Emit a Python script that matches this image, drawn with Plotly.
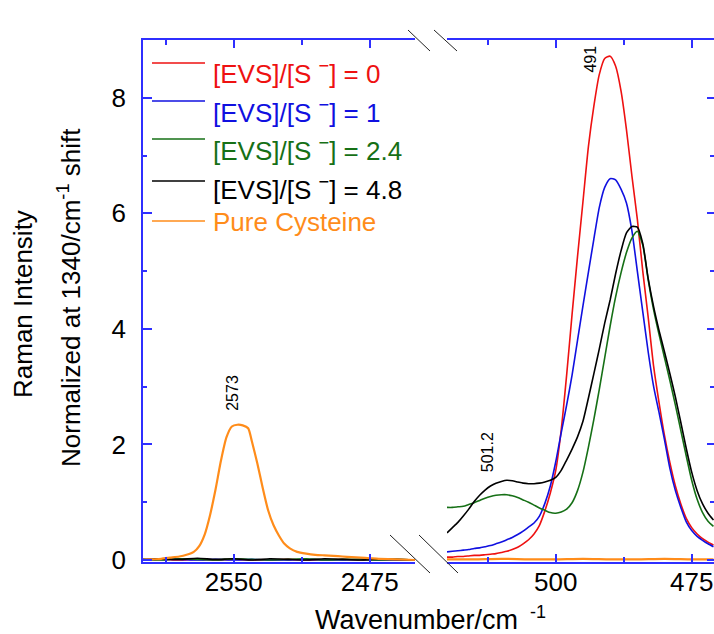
import plotly.graph_objects as go

# ---------------- data ----------------
series_names = ["[EVS]/[S <sup>−</sup>] = 0", "[EVS]/[S <sup>−</sup>] = 1",
                "[EVS]/[S <sup>−</sup>] = 2.4", "[EVS]/[S <sup>−</sup>] = 4.8",
                "Pure Cysteine"]
series_colors = ["#ee1111", "#1010e0", "#167016", "#000000", "#ff8c1a"]

# S-H stretch region (left panel), cm-1
sh_wn = [2600, 2595, 2590, 2585, 2580, 2576, 2572, 2569, 2566, 2563, 2560, 2557,
         2554, 2551, 2548, 2545, 2542, 2540, 2537, 2534, 2531, 2528, 2525, 2522,
         2519, 2515, 2510, 2505, 2500, 2495, 2490, 2485, 2480, 2475, 2470, 2460, 2450]
sh_cys = [0.0, 0.01, 0.02, 0.04, 0.06, 0.09, 0.14, 0.24, 0.44, 0.78, 1.22, 1.72,
          2.12, 2.31, 2.34, 2.33, 2.28, 2.06, 1.68, 1.25, 0.86, 0.60, 0.42, 0.28,
          0.20, 0.14, 0.11, 0.09, 0.08, 0.07, 0.06, 0.05, 0.04, 0.03, 0.02, 0.01, 0.0]

sh_wn_coarse = [2600, 2590, 2580, 2570, 2560, 2550, 2540, 2530, 2520, 2510,
                2500, 2490, 2480, 2470, 2460, 2450]
sh_r0 = [0.01, 0.01, 0.00, 0.01, 0.00, 0.01, 0.00, 0.00, 0.01, 0.00, 0.00, 0.01, 0.00, 0.00, 0.00, 0.00]
sh_r1 = [0.00, 0.01, 0.01, 0.00, 0.01, 0.00, 0.01, 0.00, 0.00, 0.01, 0.00, 0.00, 0.01, 0.00, 0.00, 0.00]
sh_r24 = [0.01, 0.00, 0.02, 0.01, 0.00, 0.02, 0.01, 0.00, 0.01, 0.02, 0.00, 0.01, 0.01, 0.00, 0.01, 0.00]
sh_r48 = [0.00, 0.02, 0.01, 0.03, 0.01, 0.02, 0.00, 0.02, 0.01, 0.00, 0.02, 0.01, 0.00, 0.02, 0.01, 0.00]

# S-S stretch region (right panel), cm-1
ss_wn = [520, 519, 518, 517, 516, 515, 514, 513, 512, 511, 510, 509, 508, 507, 506,
         505, 504, 503, 502, 501, 500, 499, 498, 497, 496, 495, 494, 493, 492, 491,
         490, 489, 488, 487, 486, 485, 484, 483, 482, 481, 480, 479, 478, 477, 476,
         475, 474, 473, 472, 471]
ss_r0 = [0.05, 0.05, 0.06, 0.06, 0.07, 0.08, 0.08, 0.09, 0.10, 0.11, 0.13, 0.15, 0.18, 0.22, 0.28,
         0.35, 0.45, 0.60, 0.85, 1.16, 1.55, 2.25, 3.20, 4.25, 5.25, 6.20, 7.15, 7.85, 8.40, 8.68,
         8.72, 8.55, 8.12, 7.45, 6.65, 5.90, 5.00, 4.20, 3.35, 2.72, 2.15, 1.68, 1.28, 0.97, 0.72,
         0.56, 0.45, 0.37, 0.31, 0.26]
ss_r1 = [0.14, 0.15, 0.16, 0.17, 0.18, 0.20, 0.21, 0.23, 0.25, 0.28, 0.31, 0.35, 0.39, 0.44, 0.50,
         0.57, 0.64, 0.76, 0.98, 1.28, 1.70, 2.20, 2.68, 3.20, 3.80, 4.40, 4.98, 5.55, 6.10, 6.45,
         6.60, 6.58, 6.42, 6.18, 5.70, 5.00, 4.30, 3.60, 3.00, 2.55, 2.08, 1.58, 1.20, 0.91, 0.66,
         0.51, 0.41, 0.34, 0.28, 0.23]
ss_r24 = [0.91, 0.91, 0.92, 0.93, 0.96, 0.99, 1.03, 1.07, 1.10, 1.12, 1.13, 1.13, 1.11, 1.08, 1.04,
          1.00, 0.95, 0.90, 0.86, 0.82, 0.81, 0.83, 0.88, 0.99, 1.20, 1.52, 1.95, 2.43, 2.95, 3.50,
          4.05, 4.55, 4.97, 5.32, 5.57, 5.69, 5.45, 4.85, 4.33, 3.90, 3.50, 3.10, 2.68, 2.24, 1.80,
          1.38, 1.05, 0.82, 0.67, 0.58]
ss_r48 = [0.47, 0.56, 0.65, 0.76, 0.88, 1.01, 1.12, 1.21, 1.28, 1.33, 1.36, 1.38, 1.37, 1.35, 1.33,
          1.32, 1.32, 1.33, 1.35, 1.38, 1.43, 1.55, 1.73, 1.92, 2.13, 2.40, 2.80, 3.22, 3.65, 4.10,
          4.50, 4.95, 5.35, 5.66, 5.77, 5.76, 5.48, 4.87, 4.38, 3.97, 3.60, 3.22, 2.82, 2.38, 1.93,
          1.52, 1.20, 0.97, 0.81, 0.69]
ss_wn_coarse = [520, 515, 510, 505, 500, 495, 490, 485, 480, 475, 471]
ss_cys = [0.01, 0.01, 0.02, 0.01, 0.01, 0.02, 0.01, 0.01, 0.02, 0.01, 0.01]

# peak labels
peak_labels = ["2573", "491", "501.2"]

# ---------------- layout constants ----------------
W, H = 714, 634
ML, MR, MT, MB = 143, 0, 40, 72
PW, PH = W - ML - MR, H - MT - MB
FONT = "Liberation Sans, Arial, Helvetica, sans-serif"
AXC = "#2f2fff"


def px_x(p):
    return (p - ML) / PW


def px_y(p):
    return (H - MB - p) / PH


left_dom = [0.0, px_x(415)]
right_dom = [px_x(447), 1.0]

fig = go.Figure()

left_sets = [(sh_wn_coarse, sh_r0), (sh_wn_coarse, sh_r1), (sh_wn_coarse, sh_r24),
             (sh_wn_coarse, sh_r48), (sh_wn, sh_cys)]
right_sets = [(ss_wn, ss_r0), (ss_wn, ss_r1), (ss_wn, ss_r24), (ss_wn, ss_r48),
              (ss_wn_coarse, ss_cys)]

for i, (name, col) in enumerate(zip(series_names, series_colors)):
    lw = 2.2 if i == 4 else 1.6
    xs, ys = left_sets[i]
    fig.add_trace(go.Scatter(x=xs, y=ys, mode="lines", name=name, showlegend=False,
                             line=dict(color=col, width=lw, shape="spline", smoothing=0.6),
                             xaxis="x", yaxis="y"))
    xs, ys = right_sets[i]
    fig.add_trace(go.Scatter(x=xs, y=ys, mode="lines", name=name, showlegend=False,
                             line=dict(color=col, width=lw, shape="spline", smoothing=0.6),
                             xaxis="x2", yaxis="y2"))

tickfont = dict(family=FONT, size=26, color="black")
xcommon = dict(showline=True, linecolor=AXC, linewidth=1.5, mirror="ticks",
               ticks="inside", ticklen=8, tickwidth=1.5, tickcolor=AXC,
               showgrid=False, zeroline=False, tickfont=tickfont, ticklabelstandoff=-4)

fig.update_layout(
    width=W, height=H,
    margin=dict(l=ML, r=MR, t=MT, b=MB, pad=0),
    paper_bgcolor="white", plot_bgcolor="white",
    font=dict(family=FONT, color="black"),
    xaxis=dict(domain=left_dom, range=[2600, 2450], tick0=2550, dtick=75, anchor="y",
               minor=dict(ticks="inside", ticklen=5, tickwidth=1.5, tickcolor=AXC, dtick=37.5,
                          tick0=2550, showgrid=False),
               **xcommon),
    xaxis2=dict(domain=right_dom, range=[520, 470.9], tick0=500, dtick=25, anchor="y2",
                minor=dict(ticks="inside", ticklen=5, tickwidth=1.5, tickcolor=AXC, dtick=12.5,
                           tick0=500, showgrid=False),
                **xcommon),
    yaxis=dict(domain=[0, 1], range=[-0.035, 9.0], anchor="x", dtick=2, tick0=0,
               showline=True, linecolor=AXC, linewidth=1.5, mirror=False,
               ticks="inside", ticklen=9, tickwidth=1.5, tickcolor=AXC,
               minor=dict(ticks="inside", ticklen=4, tickwidth=1.5, tickcolor=AXC, dtick=1,
                          showgrid=False),
               showgrid=False, zeroline=False, tickfont=tickfont, ticklabelstandoff=10),
    yaxis2=dict(domain=[0, 1], matches="y", anchor="x2", side="right", dtick=2, tick0=0,
                showline=True, linecolor=AXC, linewidth=1.5, mirror=False,
                ticks="inside", ticklen=7, tickwidth=1.5, tickcolor=AXC,
                minor=dict(ticks="inside", ticklen=4, tickwidth=1.5, tickcolor=AXC, dtick=1,
                           showgrid=False),
                showgrid=False, zeroline=False, showticklabels=False),
)

# ---- axis titles ----
ann = []
ann.append(dict(text="Raman Intensity", x=px_x(23), y=px_y(304), xref="paper", yref="paper",
                textangle=-90, showarrow=False, font=dict(size=26, family=FONT),
                xanchor="center", yanchor="middle"))
ann.append(dict(text="Normalized at 1340/cm<sup>-1</sup> shift", x=px_x(69), y=px_y(298),
                xref="paper", yref="paper", textangle=-90, showarrow=False,
                font=dict(size=26, family=FONT), xanchor="center", yanchor="middle"))
ann.append(dict(text="Wavenumber/cm", x=px_x(416), y=px_y(620), xref="paper", yref="paper",
                showarrow=False, font=dict(size=27, family=FONT),
                xanchor="center", yanchor="middle"))
ann.append(dict(text="-1", x=px_x(528), y=px_y(612), xref="paper", yref="paper",
                showarrow=False, font=dict(size=18, family=FONT),
                xanchor="left", yanchor="middle"))

# ---- peak labels, placed from the curve data ----
i_cys = sh_cys.index(max(sh_cys))
ann.append(dict(text=peak_labels[0], x=sh_wn[i_cys] + 2.6, y=sh_cys[i_cys] + 0.2,
                xref="x", yref="y", textangle=-90, showarrow=False,
                font=dict(size=16, family=FONT), xanchor="center", yanchor="bottom"))
i_red = ss_r0.index(max(ss_r0))
ann.append(dict(text=peak_labels[1], x=ss_wn[i_red] + 3.6, y=ss_r0[i_red] + 0.22,
                xref="x2", yref="y2", textangle=-90, showarrow=False,
                font=dict(size=16, family=FONT), xanchor="center", yanchor="top"))
shoulder = [v if w >= 503 else 0 for w, v in zip(ss_wn, ss_r48)]
i_sh = shoulder.index(max(shoulder))
ann.append(dict(text=peak_labels[2], x=ss_wn[i_sh] + 3.5, y=ss_r48[i_sh] + 0.1,
                xref="x2", yref="y2", textangle=-90, showarrow=False,
                font=dict(size=16, family=FONT), xanchor="center", yanchor="bottom"))

# ---- legend (drawn as key lines + coloured labels) ----
shapes = []
key_y = [63, 101, 139, 181, 221]
txt_y = [73, 111, 149, 189, 222]
for name, col, ky, ty in zip(series_names, series_colors, key_y, txt_y):
    shapes.append(dict(type="line", xref="paper", yref="paper",
                       x0=px_x(152), x1=px_x(205), y0=px_y(ky), y1=px_y(ky),
                       line=dict(color=col, width=1.5)))
    ann.append(dict(text=name, x=px_x(211), y=px_y(ty), xref="paper", yref="paper",
                    showarrow=False, xanchor="left", yanchor="middle",
                    font=dict(size=26, family=FONT, color=col)))

# ---- axis break marks ----
for (x0, y0, x1, y1) in [(408, 30, 430, 51), (434, 30, 457, 51),
                         (390, 535, 430, 573), (419, 535, 458, 573)]:
    shapes.append(dict(type="line", xref="paper", yref="paper",
                       x0=px_x(x0), y0=px_y(y0), x1=px_x(x1), y1=px_y(y1),
                       line=dict(color="#222222", width=1)))

fig.update_layout(annotations=ann, shapes=shapes)
fig.write_html("out.html")
